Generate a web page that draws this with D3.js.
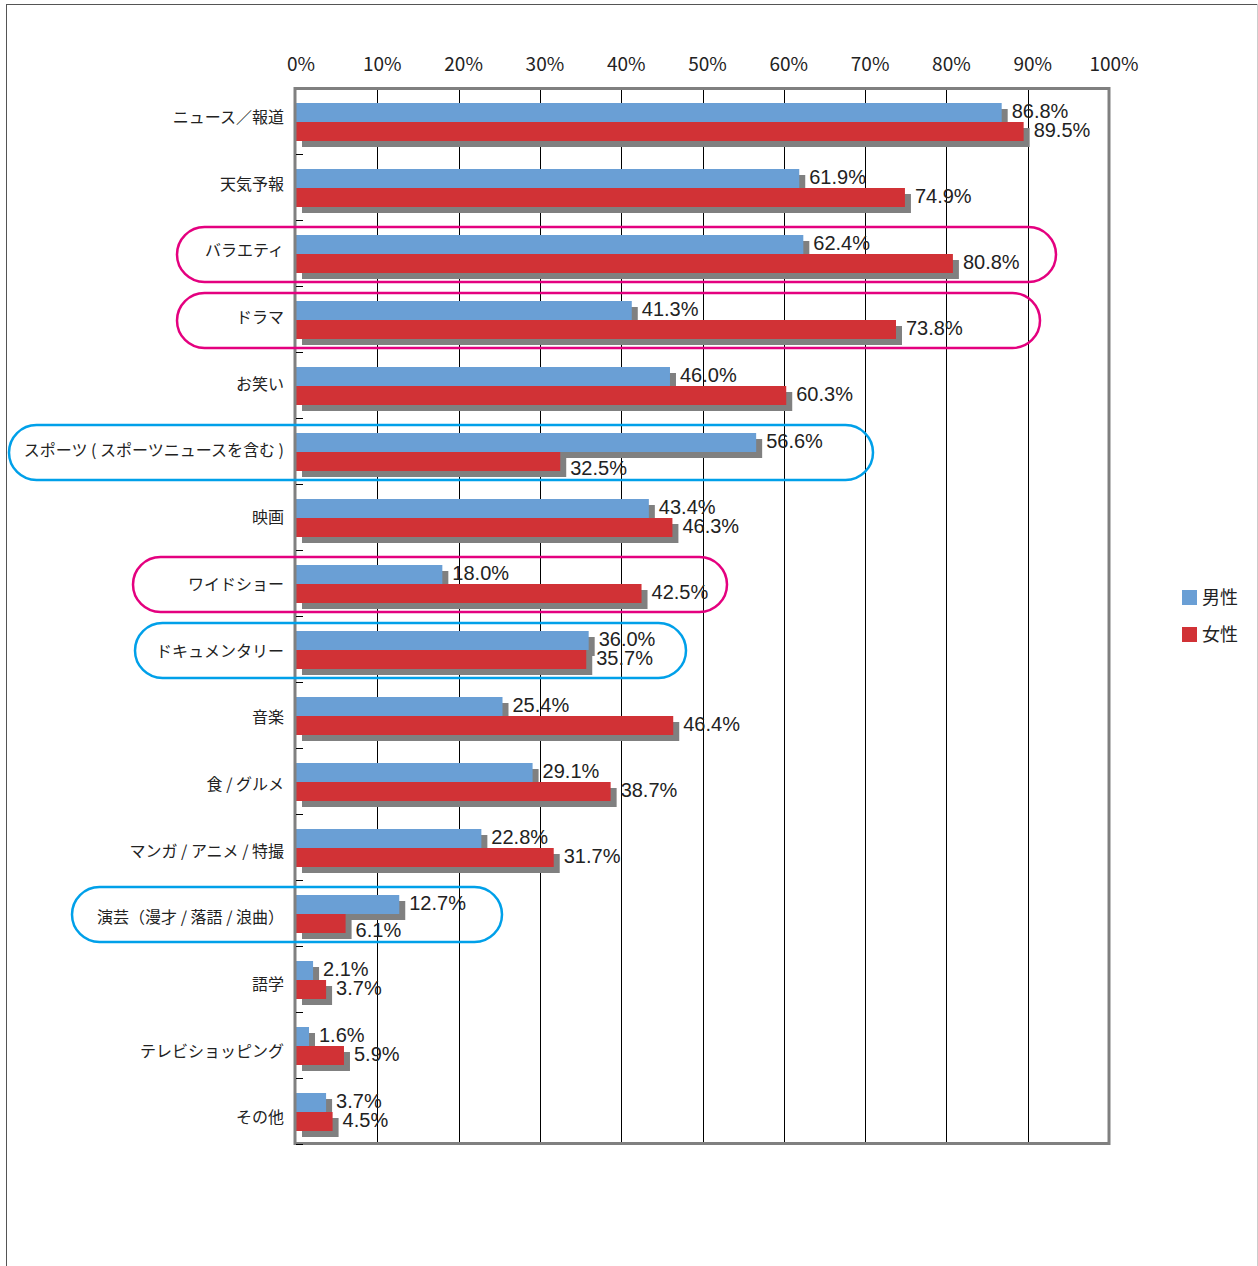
<!DOCTYPE html>
<html>
<head>
<meta charset="utf-8">
<script src="https://cdn.jsdelivr.net/npm/d3@7"></script>
<style>
body { margin: 0; background: #fff; }
</style>
</head>
<body>
<div id="chart"></div>
<script>
// Data
var categories = ["ニュース／報道", "天気予報", "バラエティ", "ドラマ", "お笑い",
	"スポーツ ( スポーツニュースを含む )", "映画", "ワイドショー", "ドキュメンタリー",
	"音楽", "食 / グルメ", "マンガ / アニメ / 特撮", "演芸（漫才 / 落語 / 浪曲）",
	"語学", "テレビショッピング", "その他"];
var male = [86.8, 61.9, 62.4, 41.3, 46.0, 56.6, 43.4, 18.0, 36.0, 25.4, 29.1, 22.8, 12.7, 2.1, 1.6, 3.7];
var female = [89.5, 74.9, 80.8, 73.8, 60.3, 32.5, 46.3, 42.5, 35.7, 46.4, 38.7, 31.7, 6.1, 3.7, 5.9, 4.5];
var series = ["男性", "女性"];
var ticks = [0, 10, 20, 30, 40, 50, 60, 70, 80, 90, 100];

// Highlight pills: category, colour, left edge (px), right edge (px)
var highlights = [
	["バラエティ", "#e4007f", 177, 1056],
	["ドラマ", "#e4007f", 177, 1040],
	["スポーツ ( スポーツニュースを含む )", "#00a0e9", 9, 873],
	["ワイドショー", "#e4007f", 133, 727],
	["ドキュメンタリー", "#00a0e9", 135, 686],
	["演芸（漫才 / 落語 / 浪曲）", "#00a0e9", 72, 502]
];

var width = 1258, height = 1266;
var colors = {"男性": "#6a9fd5", "女性": "#d13236"};
var jp = "'Noto Sans CJK JP', 'Noto Sans', sans-serif";
var num = "'Liberation Sans', Arial, sans-serif";

var svg = d3.select("#chart").append("svg")
	.attr("width", width)
	.attr("height", height);

// outer frame
svg.append("line").attr("x1", 6.5).attr("x2", 6.5).attr("y1", 4).attr("y2", height)
	.attr("stroke", "#555");
svg.append("line").attr("x1", 6).attr("x2", 1257).attr("y1", 4.5).attr("y2", 4.5)
	.attr("stroke", "#555");
svg.append("line").attr("x1", 1257.5).attr("x2", 1257.5).attr("y1", 4).attr("y2", height)
	.attr("stroke", "#ccc");

var x = d3.scaleLinear().domain([0, 100]).range([296, 1109]);
var y = d3.scaleBand().domain(categories).range([88, 1144]);
var sub = d3.scaleBand().domain(series).range([15, 53]);
// category labels drift slightly lower than the bars in the original
var labelY = d3.scaleBand().domain(categories).range([88, 1155]);

var rows = categories.map(function(c, i){
	return {cat: c, values: [{s: "男性", v: male[i]}, {s: "女性", v: female[i]}]};
});

// gridlines
svg.append("g").selectAll("line").data(ticks.slice(1, -1)).join("line")
	.attr("x1", function(d){ return Math.round(x(d)) + 0.5; })
	.attr("x2", function(d){ return Math.round(x(d)) + 0.5; })
	.attr("y1", 88).attr("y2", 1144)
	.attr("stroke", "#000").attr("stroke-width", 1);

// top tick labels
svg.append("g").selectAll("text").data(ticks).join("text")
	.attr("x", function(d){ return x(d) + 5; })
	.attr("y", 71)
	.attr("text-anchor", "middle")
	.attr("font-family", jp)
	.attr("font-size", 19)
	.attr("fill", "#222")
	.text(function(d){ return d + "%"; });

var groups = svg.append("g").selectAll("g").data(rows).join("g")
	.attr("transform", function(d){ return "translate(0," + y(d.cat) + ")"; });

// shadows first
groups.selectAll("rect.shadow").data(function(d){ return d.values; }).join("rect")
	.attr("class", "shadow")
	.attr("x", x(0) + 6)
	.attr("y", function(d){ return sub(d.s) + 6; })
	.attr("width", function(d){ return x(d.v) - x(0); })
	.attr("height", sub.bandwidth())
	.attr("fill", "#808080");

groups.selectAll("rect.bar").data(function(d){ return d.values; }).join("rect")
	.attr("class", "bar")
	.attr("x", x(0))
	.attr("y", function(d){ return sub(d.s); })
	.attr("width", function(d){ return x(d.v) - x(0); })
	.attr("height", sub.bandwidth())
	.attr("fill", function(d){ return colors[d.s]; });

// value labels; a female label that would hit the male bar's shadow is nudged down
groups.selectAll("text.val").data(function(d){ return d.values; }).join("text")
	.attr("class", "val")
	.attr("x", function(d){ return x(d.v) + 10; })
	.attr("y", function(d, i, nodes){
		var base = sub(d.s) + sub.bandwidth() / 2 + 5;
		var other = d3.select(nodes[i].parentNode).datum().values[0].v;
		if (d.s === "女性" && x(d.v) + 10 < x(other) + 6) base += 8;
		return base;
	})
	.attr("font-family", num)
	.attr("font-size", 20)
	.attr("fill", "#222")
	.text(function(d){ return d.v.toFixed(1) + "%"; });

// category labels
svg.append("g").selectAll("text").data(categories).join("text")
	.attr("x", 284)
	.attr("y", function(d){ return labelY(d) + 35; })
	.attr("text-anchor", "end")
	.attr("font-family", jp)
	.attr("font-size", 16)
	.attr("fill", "#222")
	.text(function(d){ return d; });

// plot frame
svg.append("rect")
	.attr("x", 295).attr("y", 88.5)
	.attr("width", 814).attr("height", 1055)
	.attr("fill", "none")
	.attr("stroke", "#808080").attr("stroke-width", 3);

// left category ticks
svg.append("g").selectAll("line").data(categories.slice(1).concat([null])).join("line")
	.attr("x1", 296).attr("x2", 303)
	.attr("y1", function(d, i){ return Math.round(y(categories[0]) + y.step() * (i + 1)) + 0.5; })
	.attr("y2", function(d, i){ return Math.round(y(categories[0]) + y.step() * (i + 1)) + 0.5; })
	.attr("stroke", "#000");

// highlight pills
svg.append("g").selectAll("rect").data(highlights).join("rect")
	.attr("x", function(d){ return d[2]; })
	.attr("y", function(d){ return y(d[0]) + 7; })
	.attr("width", function(d){ return d[3] - d[2]; })
	.attr("height", 55)
	.attr("rx", 27.5)
	.attr("fill", "none")
	.attr("stroke", function(d){ return d[1]; })
	.attr("stroke-width", 2.5);

// legend
var legend = svg.append("g").selectAll("g").data(series).join("g")
	.attr("transform", function(d, i){ return "translate(1182," + (590 + i * 37) + ")"; });
legend.append("rect").attr("width", 15).attr("height", 15)
	.attr("fill", function(d){ return colors[d]; });
legend.append("text").attr("x", 20).attr("y", 14)
	.attr("font-family", jp).attr("font-size", 18).attr("fill", "#222")
	.text(function(d){ return d; });
</script>
</body>
</html>
